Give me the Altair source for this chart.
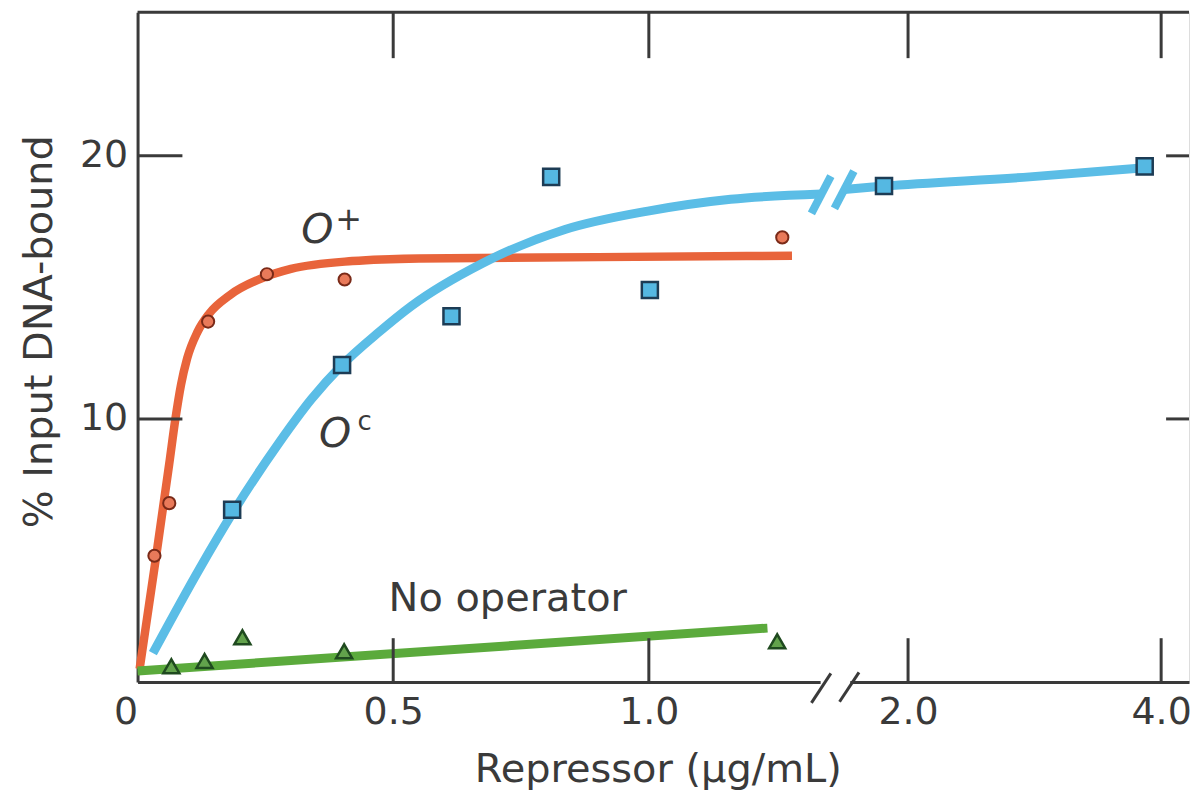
import altair as alt
import pandas as pd

# ---------------- data ----------------
# x values are repressor concentration (ug/mL), y values are % input DNA bound
# O+ measured points (circles)
op_x = [0.033, 0.062, 0.138, 0.253, 0.405, 1.261]
op_y = [4.8, 6.8, 13.7, 15.5, 15.3, 16.9]
# O+ drawn curve
op_curve_x = [0.004, 0.035, 0.062, 0.074, 0.085, 0.097, 0.117, 0.14, 0.18, 0.25, 0.30, 0.42, 0.55, 0.9, 1.28]
op_curve_y = [0.5, 4.6, 8.3, 10.0, 11.3, 12.3, 13.3, 14.0, 14.7, 15.4, 15.7, 16.0, 16.1, 16.15, 16.2]
# Oc measured points (squares)
oc_x = [0.185, 0.40, 0.614, 0.809, 1.002, 1.81, 3.87]
oc_y = [6.55, 12.05, 13.9, 19.2, 14.9, 18.85, 19.6]
# Oc drawn curve, before and after the axis break
oc_curve1_x = [0.03, 0.121, 0.185, 0.277, 0.34, 0.40, 0.472, 0.536, 0.673, 0.836, 0.998, 1.16, 1.337]
oc_curve1_y = [1.1, 4.3, 6.4, 9.1, 10.75, 12.05, 13.3, 14.3, 15.9, 17.2, 17.9, 18.35, 18.55]
oc_curve2_x = [1.495, 1.81, 2.96, 3.87]
oc_curve2_y = [18.72, 18.85, 19.2, 19.55]
# No operator (triangles) and its line
no_x = [0.066, 0.131, 0.205, 0.404, 1.251]
no_y = [0.6, 0.8, 1.7, 1.17, 1.55]
no_line_x = [0.0, 1.232]
no_line_y = [0.42, 2.05]

# axis ticks
x_tick_values = [0, 0.5, 1.0, 2.0, 4.0]
x_tick_labels = ["0", "0.5", "1.0", "2.0", "4.0"]
y_tick_values = [10, 20]

# annotations
ann_text = ["No operator"]
ann_x = [0.491]
ann_y = [2.69]
italic_text = ["O", "O"]
italic_x = [0.32, 0.355]
italic_y = [16.67, 8.94]
sup_text = ["+", "c"]
sup_x = [0.413, 0.444]
sup_y = [17.55, 9.87]
sup_size = [32, 26]

# ---------------- broken x scale ----------------
BREAK_AT = 1.4
POST_START = 1.507
POST_SCALE = 0.2475


def brk(v):
    return v if v <= BREAK_AT else POST_START + (v - 2) * POST_SCALE


U_EXPR = f"datum.x <= {BREAK_AT} ? datum.x : {POST_START} + (datum.x - 2) * {POST_SCALE}"

W, H = 1055, 672
PX_PER_U = 513.0
U_MAX = W / PX_PER_U
Y_MAX = H / 26.4

INK = "#3a3a3a"
FONT = "DejaVu Sans"
ORANGE = "#E8643B"
BLUE = "#5BBDE6"
GREEN = "#5BAA3C"

tick_u = [brk(v) for v in x_tick_values]
label_expr = ""
for i, (u, lab) in enumerate(zip(tick_u, x_tick_labels)):
    if i < len(tick_u) - 1:
        mid = (u + tick_u[i + 1]) / 2
        label_expr += f"datum.value < {mid:.4f} ? '{lab}' : "
    else:
        label_expr += f"'{lab}'"

xscale = alt.Scale(domain=[0, U_MAX], nice=False, zero=False)
yscale = alt.Scale(domain=[0, Y_MAX], nice=False, zero=False)

xaxis = alt.Axis(
    values=tick_u, labelExpr=label_expr, domain=True, domainColor=INK, domainWidth=3,
    ticks=False, tickSize=0,
    grid=False, labelFontSize=38, labelColor=INK, labelFont=FONT,
    labelPadding=12, labelFlush=False,
    labelAlign=alt.condition("datum.value == 0", alt.value("right"), alt.value("center")),
    title="Repressor (µg/mL)", titleFontSize=40, titleFont=FONT, titleColor=INK,
    titleFontWeight="normal", titleX=522, titleY=100, titleAlign="center",
    titleBaseline="alphabetic",
)
yaxis = alt.Axis(
    values=y_tick_values, domain=True, domainColor=INK, domainWidth=3,
    ticks=False, tickSize=0, grid=False, labelFontSize=38, labelColor=INK,
    labelFont=FONT, labelPadding=10, labelBaseline="middle",
    title="% Input DNA-bound", titleFontSize=40, titleFont=FONT, titleColor=INK,
    titleFontWeight="normal", titleAngle=270, titleX=-86, titleY=320,
    titleAlign="center", titleBaseline="alphabetic",
)

X = alt.X("u:Q", scale=xscale, axis=xaxis)
Y = alt.Y("y:Q", scale=yscale, axis=yaxis)


def df_xy(xs, ys):
    return pd.DataFrame({"x": xs, "y": ys, "i": list(range(len(xs)))})


def line_layer(xs, ys, color, width):
    return (
        alt.Chart(df_xy(xs, ys))
        .transform_calculate(u=U_EXPR)
        .mark_line(color=color, strokeWidth=width, strokeCap="butt", interpolate="monotone")
        .encode(x=X, y=Y, order="i:Q")
    )


def point_layer(xs, ys, shape, size, fill, stroke, sw):
    return (
        alt.Chart(df_xy(xs, ys))
        .transform_calculate(u=U_EXPR)
        .mark_point(shape=shape, size=size, filled=True, fill=fill, stroke=stroke,
                    strokeWidth=sw, opacity=1, fillOpacity=1)
        .encode(x=X, y=Y)
    )


# frame and ticks
ticks_x_df = pd.DataFrame({"x": x_tick_values[1:]})
ticks_y_df = pd.DataFrame({"y": y_tick_values})

bottom_ticks = (
    alt.Chart(ticks_x_df).transform_calculate(u=U_EXPR)
    .mark_rule(color=INK, strokeWidth=3)
    .encode(x=X, y=alt.value(H), y2=alt.value(H - 44))
)
top_ticks = (
    alt.Chart(ticks_x_df).transform_calculate(u=U_EXPR)
    .mark_rule(color=INK, strokeWidth=3)
    .encode(x=X, y=alt.value(0), y2=alt.value(46))
)
left_ticks = (
    alt.Chart(ticks_y_df).mark_rule(color=INK, strokeWidth=3)
    .encode(y=Y, x=alt.value(0), x2=alt.value(45))
)
right_ticks = (
    alt.Chart(ticks_y_df).mark_rule(color=INK, strokeWidth=3)
    .encode(y=Y, x=alt.value(W - 23), x2=alt.value(W))
)
top_line = (
    alt.Chart(pd.DataFrame({"y": [Y_MAX]})).mark_rule(color=INK, strokeWidth=3)
    .encode(y=Y, x=alt.value(0), x2=alt.value(W))
)
# gap in the bottom axis line at the scale break (plotted units)
gap_df = pd.DataFrame({"u": [1.336], "u2": [1.394]})
axis_gap = (
    alt.Chart(gap_df)
    .mark_rect(color="white", opacity=1)
    .encode(x=X, x2="u2:Q", y=alt.value(H - 4), y2=alt.value(H + 4))
)

# break slashes (centres in plotted units)
axis_break_df = pd.DataFrame({"uc": [1.337, 1.392], "yc": [-0.23, -0.19]})
curve_break_df = pd.DataFrame({"uc": [1.337, 1.382], "yc": [18.52, 18.71]})
axis_slashes = (
    alt.Chart(axis_break_df)
    .transform_calculate(u="datum.uc - 0.019", u2="datum.uc + 0.019",
                         y="datum.yc - 0.56", y2="datum.yc + 0.56")
    .mark_rule(color=INK, strokeWidth=3)
    .encode(x=X, x2="u2:Q", y=Y, y2="y2:Q")
)
curve_slashes = (
    alt.Chart(curve_break_df)
    .transform_calculate(u="datum.uc - 0.019", u2="datum.uc + 0.019",
                         y="datum.yc - 0.71", y2="datum.yc + 0.71")
    .mark_rule(color=BLUE, strokeWidth=8, strokeCap="butt")
    .encode(x=X, x2="u2:Q", y=Y, y2="y2:Q")
)

# annotations
ann = (
    alt.Chart(pd.DataFrame({"x": ann_x, "y": ann_y, "t": ann_text}))
    .transform_calculate(u=U_EXPR)
    .mark_text(font=FONT, fontSize=40, color=INK, align="left", baseline="alphabetic")
    .encode(x=X, y=Y, text="t:N")
)
ital = (
    alt.Chart(pd.DataFrame({"x": italic_x, "y": italic_y, "t": italic_text}))
    .transform_calculate(u=U_EXPR)
    .mark_text(font=FONT, fontSize=41, fontStyle="italic", color=INK, align="left",
               baseline="alphabetic")
    .encode(x=X, y=Y, text="t:N")
)
sups = (
    alt.Chart(pd.DataFrame({"x": sup_x, "y": sup_y, "t": sup_text, "s": sup_size}))
    .transform_calculate(u=U_EXPR)
    .mark_text(font=FONT, color=INK, align="center", baseline="middle")
    .encode(x=X, y=Y, text="t:N", size=alt.Size("s:Q", scale=None, legend=None))
)

chart = alt.layer(
    line_layer(op_curve_x, op_curve_y, ORANGE, 8.5),
    line_layer(oc_curve1_x, oc_curve1_y, BLUE, 9),
    line_layer(oc_curve2_x, oc_curve2_y, BLUE, 9),
    curve_slashes,
    line_layer(no_line_x, no_line_y, GREEN, 9),
    point_layer(op_x, op_y, "circle", 150, "#E97A5A", "#7A2A18", 2),
    point_layer(oc_x, oc_y, "square", 260, "#55B8E2", "#1D3C55", 2.5),
    point_layer(no_x, no_y, "triangle-up", 260, "#62A24C", "#1F4A1F", 2.5),
    top_line, axis_gap, bottom_ticks, top_ticks, left_ticks, right_ticks,
    axis_slashes, ann, ital, sups,
).properties(
    width=W, height=H, autosize="none",
    padding={"left": 130, "top": 3, "right": 6, "bottom": 110},
).configure_view(stroke=None).configure(font=FONT, background="white")

chart.save("out.html", embed_options={"renderer": "svg", "actions": False})
